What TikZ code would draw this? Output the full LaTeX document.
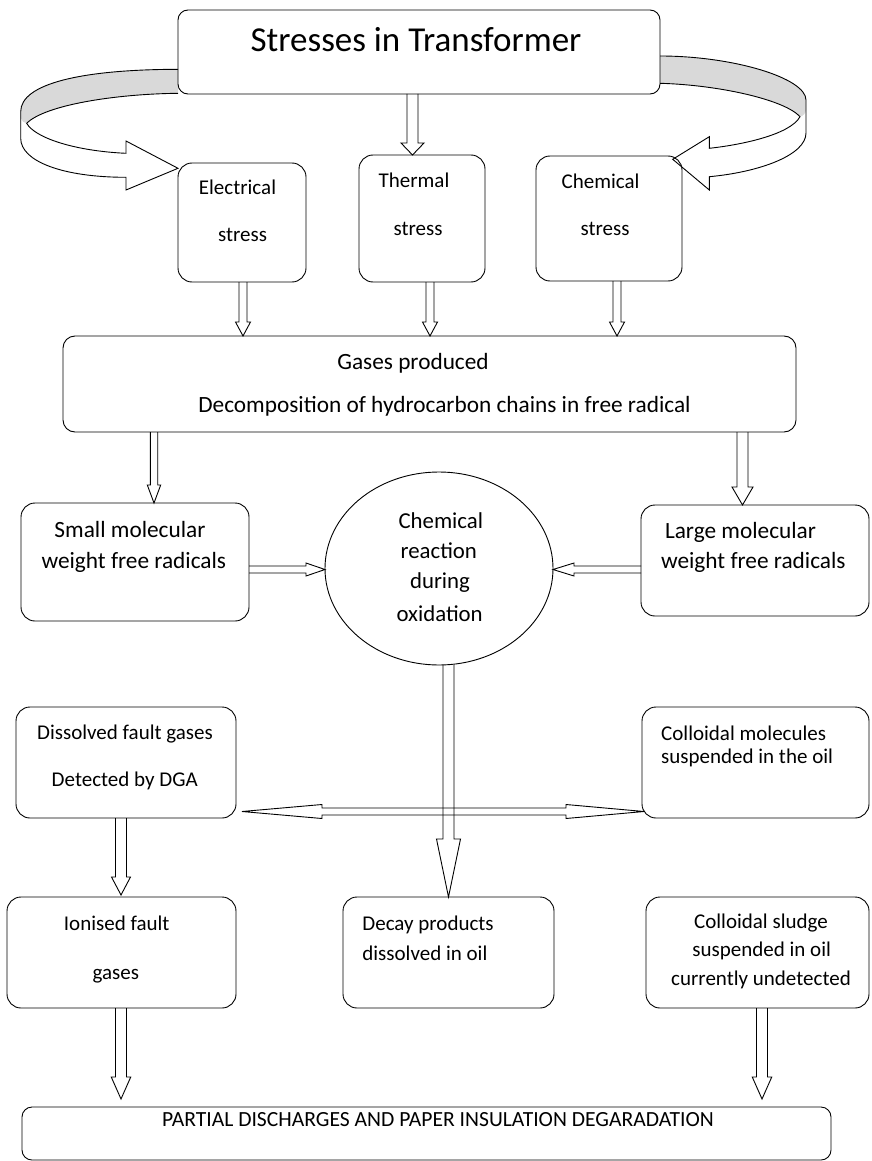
\documentclass[tikz,border=0pt]{standalone}
\usepackage{fontspec}
\setmainfont{Carlito}
\usetikzlibrary{calc,shapes.geometric}
\pgfdeclarelayer{background}
\pgfsetlayers{background,main}
\definecolor{ribbongray}{RGB}{217,217,217}

% hollow block arrow along a vertical line: from, to, shaft half-width, head half-width, head length
\newcommand{\vhollow}[5]{%
  \draw[hollow] let \p1=#1, \p2=#2, \n1={sign(\y2-\y1)} in
    ({\x1-#3pt},\y1) -- ({\x1-#3pt},{\y2-\n1*#5pt}) -- ({\x1-#4pt},{\y2-\n1*#5pt}) -- (\x1,\y2)
    -- ({\x1+#4pt},{\y2-\n1*#5pt}) -- ({\x1+#3pt},{\y2-\n1*#5pt}) -- ({\x1+#3pt},\y1);}
% hollow block arrow along a horizontal line
\newcommand{\hhollow}[5]{%
  \draw[hollow] let \p1=#1, \p2=#2, \n1={sign(\x2-\x1)} in
    (\x1,{\y1+#3pt}) -- ({\x2-\n1*#5pt},{\y1+#3pt}) -- ({\x2-\n1*#5pt},{\y1+#4pt}) -- (\x2,\y1)
    -- ({\x2-\n1*#5pt},{\y1-#4pt}) -- ({\x2-\n1*#5pt},{\y1-#3pt}) -- (\x1,{\y1-#3pt});}

\begin{document}
\begin{tikzpicture}[x=1pt,y=-1pt,
  box/.style={draw, line width=0.9pt, rounded corners=14pt, anchor=north west,
    inner sep=0pt, outer sep=0pt},
  txt/.style={anchor=base, inner sep=0pt, font=\fontsize{21}{25}\selectfont},
  mid/.style={anchor=base, inner sep=0pt, font=\fontsize{23.3}{27}\selectfont},
  oval/.style={anchor=base, inner sep=0pt, font=\fontsize{22.8}{27}\selectfont},
  hollow/.style={draw, line width=0.9pt, line join=miter},
  ribbon/.style={draw, line width=0.9pt, line join=miter},
]

% ---------- boxes ----------
\node[box, rounded corners=10pt, minimum width=482pt, minimum height=84pt] (title) at (178,10) {};
\node[box, minimum width=128pt, minimum height=119pt] (elec) at (178,163) {};
\node[box, minimum width=126pt, minimum height=127pt] (therm) at (359,155) {};
\node[box, minimum width=146pt, minimum height=125pt] (chem) at (536,156) {};
\node[box, rounded corners=12pt, minimum width=733pt, minimum height=96pt] (gases) at (63,336) {};
\node[box, minimum width=228pt, minimum height=118pt] (small) at (21,503) {};
\node[draw, ellipse, line width=0.9pt, minimum width=228pt, minimum height=193pt,
  inner sep=0pt, outer sep=0pt] (oxid) at (439,568.5) {};
\node[box, minimum width=228pt, minimum height=111pt] (large) at (641,505) {};
\node[box, minimum width=220pt, minimum height=111pt] (dissolved) at (16,707) {};
\node[box, minimum width=227pt, minimum height=111pt] (colmol) at (642,707) {};
\node[box, minimum width=229pt, minimum height=111pt] (ionised) at (7,897) {};
\node[box, minimum width=211pt, minimum height=111pt] (decay) at (343,897) {};
\node[box, minimum width=223pt, minimum height=111pt] (sludge) at (646,897) {};
\node[box, rounded corners=10pt, minimum width=809pt, minimum height=53pt] (bottom) at (22,1107) {};

% ---------- texts ----------
\node[anchor=base, inner sep=0pt, font=\fontsize{35}{40}\selectfont] (titletext) at (416,52) {Stresses in Transformer};
\node[txt] (elec1) at (237.5,195) {Electrical};
\node[txt] (elec2) at (242.5,241.7) {stress};
\node[txt] (therm1) at (414,187.3) {Thermal};
\node[txt] (therm2) at (418,235) {stress};
\node[txt] (chem1) at (600.5,188.3) {Chemical};
\node[txt] (chem2) at (605,235) {stress};
\node[mid] (gases1) at (413,369.3) {Gases produced};
\node[mid] (gases2) at (444.5,412.7) {Decomposition of hydrocarbon chains in free radical};
\node[mid] (small1) at (130,537) {Small molecular};
\node[mid] (small2) at (133.8,568) {weight free radicals};
\node[mid] (large1) at (740.5,538.3) {Large molecular};
\node[mid] (large2) at (753.3,568.3) {weight free radicals};
\node[oval] (oxid1) at (440.8,528.3) {Chemical};
\node[oval] (oxid2) at (438.8,558.3) {reaction};
\node[oval] (oxid3) at (440,588.3) {during};
\node[oval] (oxid4) at (439.7,621.7) {oxidation};
\node[txt] (dis1) at (125,739) {Dissolved fault gases};
\node[txt] (dis2) at (124.7,786.7) {Detected by DGA};
\node[txt, anchor=base west] (cm1) at (661,740) {Colloidal molecules};
\node[txt, anchor=base west] (cm2) at (661,763.3) {suspended in the oil};
\node[txt] (ion1) at (116.7,930) {Ionised fault};
\node[txt] (ion2) at (115.8,979) {gases};
\node[txt, anchor=base west] (dec1) at (362.2,930) {Decay products};
\node[txt, anchor=base west] (dec2) at (362.2,960) {dissolved in oil};
\node[txt] (sl1) at (761,928.3) {Colloidal sludge};
\node[txt] (sl2) at (761.7,956.7) {suspended in oil};
\node[txt] (sl3) at (761,985) {currently undetected};
\node[txt, font=\fontsize{21.6}{25}\selectfont] (bottomtext) at (438,1126.7) {PARTIAL DISCHARGES AND PAPER INSULATION DEGARADATION};

\begin{pgfonlayer}{background}
\fill[white] (0,0) rectangle (871,1161);

% ---------- twisted ribbon arrows from the title ----------
\fill[ribbongray] (178,69.3) .. controls (80,69.5) and (20.7,84) .. (20.7,111.7)
  -- (20.7,118) .. controls (21.5,121) and (24,123) .. (26.7,123.3)
  .. controls (45,105) and (115,94) .. (178,93.3) -- cycle;
\draw[ribbon] (178,69.3) .. controls (80,69.5) and (20.7,84) .. (20.7,111.7)
  -- (20.7,138.3) .. controls (20.7,161.4) and (63,177.3) .. (126,177.3)
  -- (126,190) -- (178,168.3) -- (126,141) -- (126,153.3)
  .. controls (75,151) and (35,138) .. (26.7,123.3)
  .. controls (45,105) and (115,94) .. (178,93.3);

\fill[ribbongray] (660,56) .. controls (733,56) and (806,78) .. (806,100)
  -- (806,110) .. controls (806,113) and (803,116) .. (800,116.7)
  .. controls (785,100) and (720,85) .. (660,83.3) -- cycle;
\draw[ribbon] (660,56) .. controls (733,56) and (806,78) .. (806,100)
  -- (806,133) .. controls (806,155) and (760,172) .. (709.3,176.7)
  -- (709.3,190) -- (672.7,159.3) -- (709.3,136.7) -- (709.3,148.3)
  .. controls (740,145) and (790,135) .. (800,116.7)
  .. controls (785,100) and (720,85) .. (660,83.3);

% ---------- block arrows ----------
\vhollow{($(title.south)+(-6.5,0)$)}{(therm.north)}{5.5}{11.5}{12}
\vhollow{($(elec.south)+(1,0)$)}{(gases.north)}{4}{7.5}{14}
\vhollow{($(therm.south)+(8,0)$)}{(gases.north)}{4}{7.5}{14}
\vhollow{($(chem.south)+(8,0)$)}{(gases.north)}{4}{7.5}{14}
\vhollow{($(gases.south west)+(91,0)$)}{(small.north)}{3.7}{6.7}{18}
\vhollow{($(gases.south east)+(-53.5,0)$)}{(large.north)}{5.5}{10.5}{18}
\hhollow{($(small.east)+(0,7.5)$)}{(oxid.west)}{3.5}{6.5}{19}
\hhollow{($(large.west)+(0,9)$)}{(oxid.east)}{3.5}{6.5}{21}
\vhollow{($(oxid.south)+(9.5,0)$)}{(decay.north)}{5.5}{12}{58}
% double-headed arrow between the dissolved gases and the colloidal molecules
\draw[hollow] let \p1=($(dissolved.south east)+(6,-6.5)$), \p2=($(colmol.south west)+(2,-6.5)$) in
  (\x1,\y1) -- ({\x1+80pt},{\y1+7pt}) -- ({\x1+80pt},{\y1+3.5pt}) -- ({\x2-78pt},{\y1+3.5pt})
  -- ({\x2-78pt},{\y1+7pt}) -- (\x2,\y1) -- ({\x2-78pt},{\y1-7pt}) -- ({\x2-78pt},{\y1-3.5pt})
  -- ({\x1+80pt},{\y1-3.5pt}) -- ({\x1+80pt},{\y1-7pt}) -- cycle;
\vhollow{($(dissolved.south)+(-5,0)$)}{($(ionised.north)+(0,-2)$)}{5.5}{9.5}{18}
\vhollow{($(ionised.south)+(-0.5,0)$)}{($(bottom.north)+(0,-8)$)}{5.5}{9.75}{22}
\vhollow{($(sludge.south)+(4.5,0)$)}{($(bottom.north)+(0,-8)$)}{5.5}{9.75}{22}
\end{pgfonlayer}
\end{tikzpicture}
\end{document}
